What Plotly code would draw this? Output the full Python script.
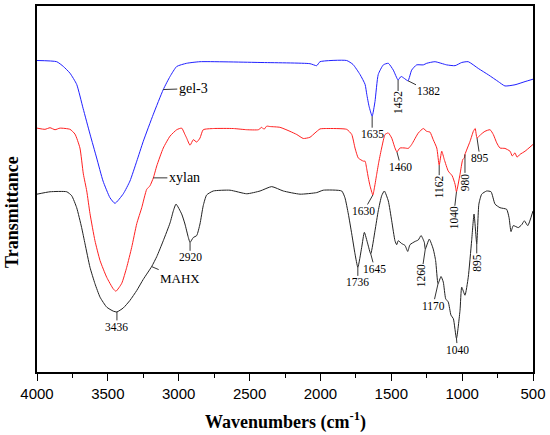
import plotly.graph_objects as go

# FTIR spectra, wavenumber (cm-1) vs transmittance (a.u., offset curves)
gel3_wn = [4000, 3861, 3814, 3767, 3720, 3675, 3626, 3579, 3534, 3485, 3450, 3391,
           3344, 3296, 3250, 3179, 3109, 3061, 3014, 2944, 2850, 2426, 2074, 2026,
           2003, 1815, 1770, 1721, 1685, 1673, 1657, 1635, 1615, 1592, 1556, 1521,
           1486, 1452, 1431, 1408, 1382, 1356, 1321, 1274, 1250, 1192, 1109, 1050,
           1003, 957, 886, 815, 745, 698, 627, 556, 500]
gel3_t = [78.3, 78.0, 76.8, 75.1, 72.3, 66.3, 59.8, 53.8, 48.0, 43.8, 42.4, 44.8,
          48.0, 53.0, 58.0, 64.8, 71.0, 74.3, 76.8, 77.6, 78.0, 77.8, 77.5, 77.0,
          78.0, 78.3, 77.3, 74.8, 72.3, 69.8, 66.8, 64.3, 68.0, 74.8, 77.2, 77.6,
          75.9, 73.4, 74.3, 73.8, 73.2, 75.9, 77.2, 77.2, 77.6, 78.0, 77.2, 77.0,
          77.8, 78.0, 76.3, 74.7, 73.0, 71.9, 72.2, 73.0, 73.6]

xylan_wn = [4000, 3944, 3908, 3873, 3838, 3767, 3732, 3697, 3673, 3649, 3626, 3591,
            3555, 3508, 3462, 3443, 3402, 3367, 3332, 3296, 3261, 3226, 3203, 3179,
            3155, 3109, 3061, 3014, 2979, 2956, 2944, 2920, 2897, 2873, 2850, 2827,
            2756, 2615, 2520, 2438, 2414, 2398, 2379, 2356, 2285, 2215, 2167, 2121,
            2074, 2038, 2003, 1956, 1815, 1779, 1756, 1733, 1697, 1685, 1673, 1662,
            1650, 1630, 1618, 1603, 1587, 1568, 1544, 1521, 1497, 1474, 1460, 1439,
            1403, 1380, 1356, 1309, 1274, 1250, 1227, 1204, 1179, 1162, 1144, 1126,
            1098, 1070, 1050, 1040, 1015, 996, 985, 980, 944, 921, 908, 895, 869,
            839, 803, 780, 756, 733, 698, 662, 646, 627, 613, 592, 556, 500]
xylan_t = [61.3, 61.0, 61.4, 60.9, 61.3, 61.0, 59.8, 56.3, 49.8, 45.5, 39.8, 33.0,
           28.0, 23.8, 20.9, 20.3, 22.3, 26.3, 31.3, 37.3, 41.3, 45.9, 46.8, 48.8,
           51.8, 56.3, 59.3, 60.9, 61.3, 59.7, 58.8, 57.0, 58.4, 57.8, 58.8, 60.9,
           61.2, 61.2, 60.9, 60.9, 61.5, 61.0, 61.8, 61.7, 61.5, 60.5, 59.7, 58.7,
           59.0, 60.1, 61.1, 61.2, 61.0, 59.7, 56.3, 53.8, 53.0, 53.0, 51.0, 48.8,
           46.8, 44.5, 46.5, 49.7, 53.0, 56.3, 59.7, 60.1, 58.8, 56.3, 55.3, 56.3,
           56.3, 56.2, 57.2, 60.1, 61.2, 60.5, 60.3, 58.4, 56.3, 52.0, 55.5, 53.4,
           50.5, 49.3, 47.2, 45.3, 49.7, 53.4, 53.8, 54.7, 58.0, 60.5, 61.2, 58.8, 59.7,
           60.5, 60.9, 59.7, 57.6, 56.3, 56.2, 55.5, 54.3, 55.1, 54.0, 54.7, 55.5, 57.2]

mahx_wn = [4000, 3908, 3790, 3755, 3720, 3685, 3661, 3626, 3591, 3555, 3508, 3462,
           3436, 3391, 3344, 3296, 3250, 3191, 3155, 3109, 3061, 3038, 3019, 2979,
           2956, 2932, 2920, 2897, 2873, 2850, 2827, 2803, 2756, 2638, 2520, 2426,
           2344, 2262, 2144, 2026, 1980, 1850, 1827, 1803, 1779, 1756, 1736, 1709,
           1690, 1666, 1645, 1615, 1592, 1568, 1549, 1521, 1497, 1474, 1462, 1451,
           1427, 1403, 1384, 1368, 1333, 1309, 1290, 1267, 1260, 1232, 1204, 1187,
           1170, 1149, 1133, 1116, 1098, 1079, 1062, 1040, 1015, 1003, 980, 957,
           933, 916, 897, 882, 862, 827, 796, 768, 733, 686, 669, 655, 639, 604,
           580, 561, 537, 500]
mahx_t = [44.7, 45.3, 45.3, 44.3, 41.3, 36.3, 32.2, 26.3, 22.2, 18.8, 16.3, 15.3,
          15.1, 16.1, 18.0, 20.5, 23.3, 26.5, 29.0, 33.0, 37.5, 40.5, 42.2, 39.7,
          37.2, 33.8, 32.6, 33.8, 34.3, 37.2, 41.8, 44.5, 45.5, 45.7, 44.8, 45.5,
          46.6, 45.5, 44.7, 45.1, 45.7, 45.5, 43.8, 39.7, 34.7, 29.7, 26.3, 31.3,
          35.1, 32.2, 29.7, 35.5, 40.5, 44.3, 45.5, 43.0, 38.0, 33.0, 32.0, 33.0,
          32.3, 31.8, 30.3, 32.0, 32.8, 33.2, 34.3, 32.6, 30.9, 33.4, 30.9, 28.0,
          22.2, 24.0, 22.6, 18.4, 17.6, 14.3, 13.4, 8.4, 15.5, 21.3, 19.3, 23.8,
          33.0, 39.7, 32.2, 42.2, 44.7, 45.5, 45.3, 42.2, 41.3, 40.9, 38.8, 35.3, 36.8, 36.3,
          37.0, 38.0, 36.8, 40.5]

# peak labels: text, wavenumber, transmittance, x/y offset (px), angle
peak_text = ["1635", "1452", "1382",
             "1630", "1460", "1162", "1040", "980", "895",
             "3436", "2920", "1736", "1645", "1260", "1170", "1040", "895"]
peak_wn = [1635, 1452, 1382,
           1630, 1460, 1162, 1040, 980, 895,
           3436, 2920, 1736, 1645, 1260, 1170, 1040, 897]
peak_t = [64.3, 73.4, 73.2,
          44.5, 55.3, 52.0, 45.3, 54.7, 58.8,
          15.1, 32.6, 26.3, 29.7, 30.9, 22.2, 8.4, 32.2]
peak_ax = [0, 0, 20, -9, 4, 0, -3, 0, 3, 0, 0, 0, 4, -4, -5, 1, 0]
peak_ay = [18, 23, 10, 16, 15, 22, 26, 28, 20, 15, 15, 15, 15, 27, 22, 11, 19]
peak_angle = [0, -90, 0, 0, 0, -90, -90, -90, 0, 0, 0, 0, 0, -90, 0, 0, -90]

# curve names with leader lines
name_text = ["gel-3", "xylan", "MAHX"]
name_wn = [3109, 3179, 3191]
name_t = [71.0, 48.8, 26.5]
name_ax = [30, 31, 28]
name_ay = [-1, 0, 12]
name_size = [14, 14, 13]

serif = "Liberation Serif, Times New Roman, serif"

fig = go.Figure()
for wn, t, color in [(gel3_wn, gel3_t, "#2020ff"),
                     (xylan_wn, xylan_t, "#ff2020"),
                     (mahx_wn, mahx_t, "#222222")]:
    fig.add_trace(go.Scatter(x=wn, y=t, mode="lines",
                             line=dict(color=color, width=1, shape="spline", smoothing=0.5),
                             showlegend=False, hoverinfo="skip"))

annotations = []
for txt, x, y, ax, ay, ang in zip(peak_text, peak_wn, peak_t, peak_ax, peak_ay, peak_angle):
    annotations.append(dict(x=x, y=y, xref="x", yref="y", text=txt, textangle=ang,
                            showarrow=True, arrowhead=0, arrowwidth=0.8, arrowcolor="black",
                            ax=ax, ay=ay, borderpad=0,
                            font=dict(family=serif, size=11.5, color="black")))
for txt, x, y, ax, ay, sz in zip(name_text, name_wn, name_t, name_ax, name_ay, name_size):
    annotations.append(dict(x=x, y=y, xref="x", yref="y", text=txt,
                            showarrow=True, arrowhead=0, arrowwidth=0.8, arrowcolor="black",
                            ax=ax, ay=ay, borderpad=1,
                            font=dict(family=serif, size=sz, color="black")))

# axis titles
annotations.append(dict(x=0.5, y=0, xref="paper", yref="paper", yshift=-49,
                        yanchor="middle", showarrow=False,
                        text="<b>Wavenumbers (cm<sup>-1</sup>)</b>",
                        font=dict(family=serif, size=18, color="black")))
annotations.append(dict(x=0, y=0.4375, xref="paper", yref="paper", xshift=-25,
                        xanchor="center", yanchor="middle", textangle=-90, showarrow=False,
                        text="<b>Transmittance</b>",
                        font=dict(family=serif, size=18, color="black")))

fig.update_xaxes(range=[4000, 500], dtick=500, tick0=500, ticks="outside", ticklen=7,
                 tickwidth=1, tickcolor="black",
                 minor=dict(dtick=250, ticks="outside", ticklen=4, tickcolor="black"),
                 showline=True, linecolor="black", linewidth=1.5, mirror=True,
                 showgrid=False, zeroline=False,
                 tickfont=dict(family="Liberation Sans, Arial, sans-serif", size=15, color="black"))
fig.update_yaxes(range=[0, 92], showticklabels=False, ticks="",
                 showline=True, linecolor="black", linewidth=1.5, mirror=True,
                 showgrid=False, zeroline=False)

fig.update_layout(width=550, height=435,
                  margin=dict(l=37, r=17, t=4, b=63),
                  paper_bgcolor="white", plot_bgcolor="white",
                  annotations=annotations)

# drop the page's default body margin so the chart sits at the window's corner
fig.write_html("out.html", config={"displayModeBar": False},
               post_script="document.body.style.margin='0px';")
